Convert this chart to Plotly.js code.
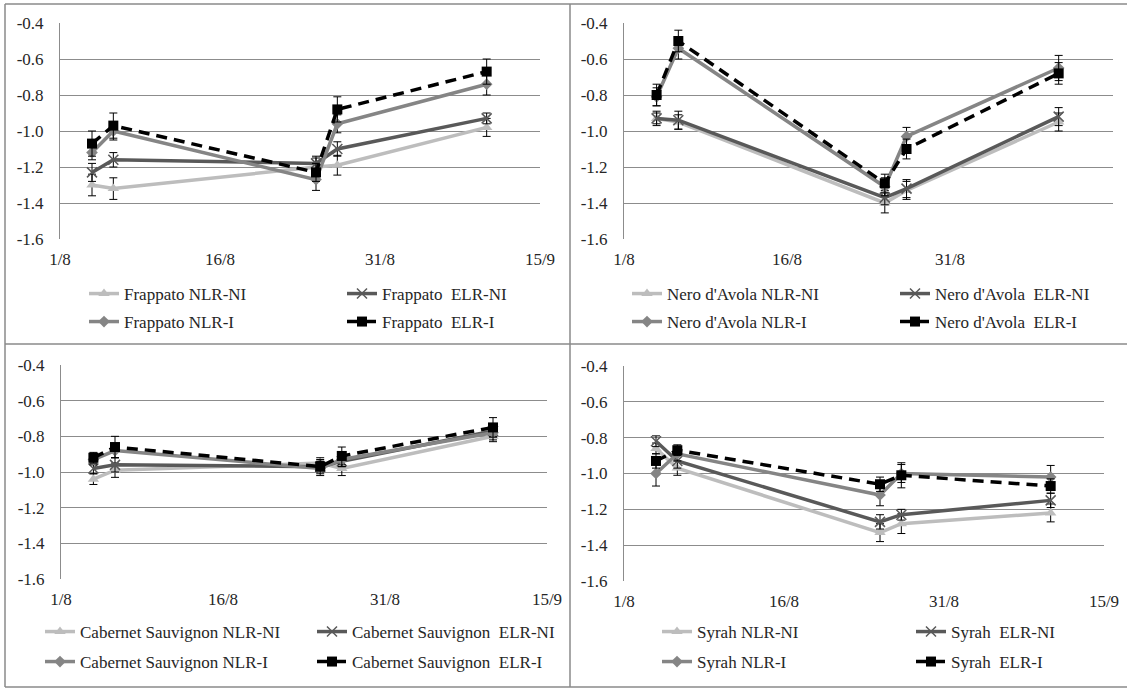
<!DOCTYPE html>
<html>
<head>
<meta charset="utf-8">
<script src="https://cdn.plot.ly/plotly-3.0.1.min.js"></script>
<style>
html,body{margin:0;padding:0;background:#fff;}
</style>
</head>
<body>
<div id="chart"></div>
<script>
// ---------- DATA ----------
const dates = ['2013-08-04', '2013-08-06', '2013-08-25', '2013-08-27', '2013-09-10'];
const xTickVals = ['2013-08-01', '2013-08-16', '2013-08-31', '2013-09-15'];
const xTickText = ['1/8', '16/8', '31/8', '15/9'];
const yTickVals = [-1.6, -1.4, -1.2, -1.0, -0.8, -0.6, -0.4];
const yTickText = ['-1.6', '-1.4', '-1.2', '-1.0', '-0.8', '-0.6', '-0.4'];

const varieties = ['Frappato', "Nero d'Avola", 'Cabernet Sauvignon', 'Syrah'];
const treatments = ['NLR-NI', ' ELR-NI', 'NLR-I', ' ELR-I'];

// Frappato
const frappatoNLR_NI = [-1.30, -1.32, -1.20, -1.19, -0.98];
const frappatoNLR_NI_err = [0.06, 0.06, 0.05, 0.055, 0.05];
const frappatoELR_NI = [-1.23, -1.16, -1.18, -1.10, -0.93];
const frappatoELR_NI_err = [0.05, 0.04, 0.04, 0.04, 0.03];
const frappatoNLR_I = [-1.12, -1.00, -1.27, -0.96, -0.74];
const frappatoNLR_I_err = [0.04, 0.05, 0.06, 0.05, 0.06];
const frappatoELR_I = [-1.07, -0.97, -1.23, -0.88, -0.67];
const frappatoELR_I_err = [0.07, 0.07, 0.05, 0.07, 0.07];

// Nero d'Avola
const neroNLR_NI = [-0.93, -0.95, -1.40, -1.33, -0.95];
const neroNLR_NI_err = [0.04, 0.04, 0.055, 0.05, 0.05];
const neroELR_NI = [-0.93, -0.94, -1.37, -1.32, -0.92];
const neroELR_NI_err = [0.03, 0.05, 0.04, 0.05, 0.05];
const neroNLR_I = [-0.81, -0.54, -1.31, -1.03, -0.65];
const neroNLR_I_err = [0.05, 0.06, 0.05, 0.05, 0.07];
const neroELR_I = [-0.80, -0.50, -1.29, -1.10, -0.68];
const neroELR_I_err = [0.06, 0.06, 0.05, 0.055, 0.06];

// Cabernet Sauvignon
const cabNLR_NI = [-1.04, -0.99, -0.95, -0.98, -0.80];
const cabNLR_NI_err = [0.03, 0.04, 0.03, 0.04, 0.03];
const cabELR_NI = [-0.98, -0.96, -0.97, -0.94, -0.77];
const cabELR_NI_err = [0.03, 0.04, 0.03, 0.03, 0.03];
const cabNLR_I = [-0.93, -0.88, -0.98, -0.93, -0.78];
const cabNLR_I_err = [0.03, 0.04, 0.04, 0.04, 0.04];
const cabELR_I = [-0.92, -0.86, -0.97, -0.91, -0.75];
const cabELR_I_err = [0.03, 0.06, 0.04, 0.05, 0.055];

// Syrah
const syrahNLR_NI = [-0.86, -0.97, -1.33, -1.28, -1.22];
const syrahNLR_NI_err = [0.03, 0.04, 0.05, 0.055, 0.05];
const syrahELR_NI = [-0.82, -0.93, -1.27, -1.23, -1.15];
const syrahELR_NI_err = [0.03, 0.04, 0.04, 0.03, 0.04];
const syrahNLR_I = [-1.00, -0.89, -1.12, -1.00, -1.02];
const syrahNLR_I_err = [0.07, 0.04, 0.06, 0.05, 0.065];
const syrahELR_I = [-0.93, -0.87, -1.06, -1.01, -1.07];
const syrahELR_I_err = [0.04, 0.03, 0.04, 0.07, 0.04];

const panelValues = [
  [frappatoNLR_NI, frappatoELR_NI, frappatoNLR_I, frappatoELR_I],
  [neroNLR_NI, neroELR_NI, neroNLR_I, neroELR_I],
  [cabNLR_NI, cabELR_NI, cabNLR_I, cabELR_I],
  [syrahNLR_NI, syrahELR_NI, syrahNLR_I, syrahELR_I]
];
const panelErrors = [
  [frappatoNLR_NI_err, frappatoELR_NI_err, frappatoNLR_I_err, frappatoELR_I_err],
  [neroNLR_NI_err, neroELR_NI_err, neroNLR_I_err, neroELR_I_err],
  [cabNLR_NI_err, cabELR_NI_err, cabNLR_I_err, cabELR_I_err],
  [syrahNLR_NI_err, syrahELR_NI_err, syrahNLR_I_err, syrahELR_I_err]
];

// ---------- STYLE / LAYOUT ----------
const W = 1127, H = 689;
const serifFamily = 'Times New Roman';
const FS = 17;
const TXT = '#262626';
const styles = [
  {color: '#bdbdbd', dash: 'solid', symbol: 'triangle-up', size: 10, lineColor: '#bdbdbd', lw: 0},
  {color: '#595959', dash: 'solid', symbol: 'x-thin-open', size: 10, lineColor: '#595959', lw: 1.5},
  {color: '#858585', dash: 'solid', symbol: 'diamond', size: 9, lineColor: '#858585', lw: 0},
  {color: '#000000', dash: '11px,7px', symbol: 'square', size: 10, lineColor: '#000000', lw: 0}
];
// plot areas in pixels [left, right, top, bottom]
const areas = [
  [60, 540, 23, 239],
  [624, 1113, 23, 239],
  [61, 547, 365, 579],
  [624, 1104, 366, 581]
];
// legend text start x and row centre y per panel: [col1x, col2x, row1y, row2y]
const legendSpots = [
  [124, 382, 294, 322],
  [667, 935, 294, 322],
  [80, 352, 632, 662],
  [697, 951, 632, 662]
];

const traces = [];
const layout = {
  width: W, height: H,
  margin: {l: 0, r: 0, t: 0, b: 0},
  paper_bgcolor: '#ffffff',
  plot_bgcolor: '#ffffff',
  font: {family: serifFamily, size: FS, color: TXT},
  shapes: [],
  showlegend: true
};

const nb = s => s.replace(/ /g, '\u00a0');

for (let p = 0; p < 4; p++) {
  const suf = p === 0 ? '' : String(p + 1);
  const [l, r, t, b] = areas[p];
  layout['xaxis' + suf] = {
    domain: [l / W, r / W],
    anchor: 'y' + suf,
    type: 'date',
    range: [xTickVals[0], xTickVals[xTickVals.length - 1]],
    tickmode: 'array', tickvals: xTickVals, ticktext: xTickText,
    showgrid: false, zeroline: false, showline: false,
    ticks: '', ticklabelstandoff: 8,
    tickfont: {family: serifFamily, size: FS, color: TXT}
  };
  layout['yaxis' + suf] = {
    domain: [1 - b / H, 1 - t / H],
    anchor: 'x' + suf,
    range: [-1.6, -0.4],
    tickmode: 'array', tickvals: yTickVals, ticktext: yTickText,
    showgrid: true, gridcolor: '#8c8c8c', gridwidth: 1,
    zeroline: false, showline: true, linecolor: '#8c8c8c', linewidth: 1,
    ticks: '', ticklabelstandoff: 12,
    tickfont: {family: serifFamily, size: FS, color: TXT}
  };
  for (let s = 0; s < 4; s++) {
    const st = styles[s];
    const idx = p * 4 + s;
    const legName = idx === 0 ? 'legend' : 'legend' + (idx + 1);
    const spot = legendSpots[p];
    const tx = (s % 2 === 0) ? spot[0] : spot[1];
    const ty = (s < 2) ? spot[2] : spot[3];
    layout[legName] = {
      visible: true,
      x: (tx - 40) / W, y: 1 - ty / H,
      xanchor: 'left', yanchor: 'middle',
      bgcolor: 'rgba(0,0,0,0)', borderwidth: 0,
      font: {family: serifFamily, size: FS, color: TXT}
    };
    traces.push({
      type: 'scatter', mode: 'lines+markers',
      x: dates, y: panelValues[p][s],
      xaxis: 'x' + suf, yaxis: 'y' + suf,
      name: nb(varieties[p] + ' ' + treatments[s]),
      legend: legName,
      showlegend: true,
      line: {color: st.color, width: 3.5, dash: st.dash},
      marker: {symbol: st.symbol, size: st.size, color: st.color,
               line: {color: st.lineColor, width: st.lw}},
      error_y: {type: 'data', array: panelErrors[p][s], visible: true,
                color: '#000000', thickness: 1, width: 4}
    });
  }
}

// frame lines
const frame = '#8a8a8a';
const addLine = (x0, y0, x1, y1) => layout.shapes.push({
  type: 'line', xref: 'paper', yref: 'paper',
  x0: x0 / W, y0: 1 - y0 / H, x1: x1 / W, y1: 1 - y1 / H,
  line: {color: frame, width: 1.5}
});
addLine(5, 4, W, 4);
addLine(5, 687, W, 687);
addLine(5, 4, 5, 687);
addLine(570, 4, 570, 687);
addLine(5, 344, W, 344);

Plotly.newPlot('chart', traces, layout, {staticPlot: true});
</script>
</body>
</html>
